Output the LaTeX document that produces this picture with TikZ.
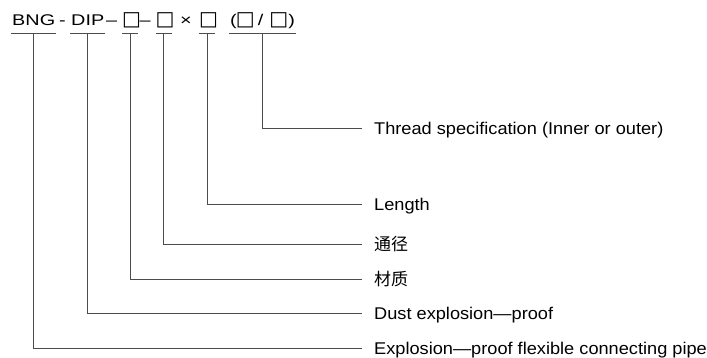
\documentclass[tikz,border=0pt]{standalone}
\usepackage{fontspec}
\setmainfont[FakeStretch=1.07]{Liberation Sans}
\newfontfamily\codefont[FakeStretch=1.28]{Liberation Sans}
\newfontfamily\boxfont{DejaVu Sans}
\newfontfamily\cjk{Noto Sans CJK SC}
\newcommand\blank{\makebox[14pt][l]{\hspace{-1pt}\boxfont\fontsize{20}{24}\selectfont □}}
\tikzset{
	code/.style={anchor=base west,inner xsep=1pt,inner ysep=7pt,text depth=0pt,font=\codefont\fontsize{15.5}{18}\selectfont},
	lab/.style={anchor=west,inner xsep=12pt,inner ysep=0pt,text height=12pt,text depth=0pt,font=\fontsize{17}{20}\selectfont},
	lead/.style={draw=black!70,line width=1pt}
}
\begin{document}
\begin{tikzpicture}[x=1pt,y=-1pt]
		
		\useasboundingbox (0,0) rectangle (707,358);
		
		% the type code
		\node[code] (bng) at (11,26) {BNG};
		\node[code] (dasha) at (58,26) {-};
		\node[code] (dip) at (70,26) {DIP};
		\node[code] (dashb) at (105,26) {–};
		\node[code] (mat) at (122,26) {\blank};
		\node[code] (dashc) at (138.5,26) {–};
		\node[code] (dia) at (155.5,26) {\blank};
		\node[code] (times) at (179,26) {×};
		\node[code] (len) at (199,26) {\blank};
		\node[code] (thr) at (229,26) {(\blank\hspace{7pt}/\hspace{7pt}\blank\hspace{4pt})};
		
		% leaders and meanings
		\foreach \part/\name/\ypos/\txt in {
			thr/lthr/128.7/{Thread specification (Inner or outer)},
			len/llen/205/{Length},
			dia/ldia/245/{\cjk 通径},
			mat/lmat/279/{\cjk 材质},
			dip/ldip/313/{Dust explosion—proof},
			bng/lbng/348/{Explosion—proof flexible connecting pipe}}
		{
			\node[lab] (\name) at (362,\ypos) {\txt};
			\draw[lead] (\part.south west) -- (\part.south east);
			\draw[lead] (\part.south) -- (\part.south |- \name.west) -- (\name.west);
		}
		
		\end{tikzpicture}
\end{document}
